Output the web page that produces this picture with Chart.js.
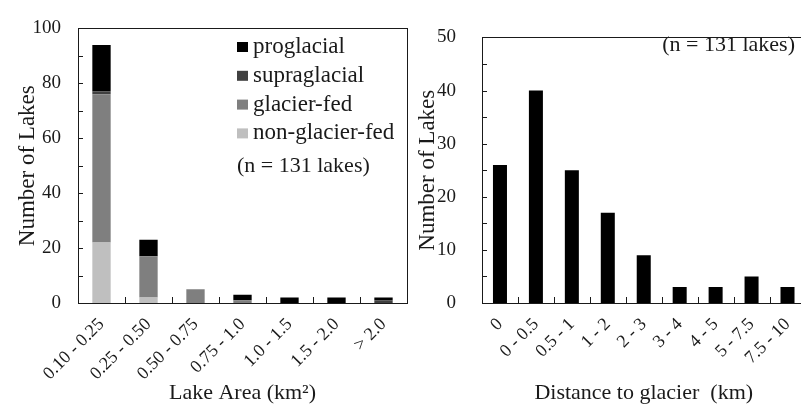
<!DOCTYPE html>
<html>
<head>
<meta charset="utf-8">
<script src="https://cdn.jsdelivr.net/npm/chart.js@4.4.1/dist/chart.umd.min.js"></script>
<style>
  html, body { margin: 0; padding: 0; background: #fff; overflow: hidden; width: 801px; height: 407px; }
  #left { position: absolute; left: 0; top: 0; }
  #right { position: absolute; left: 400px; top: 0; }
</style>
</head>
<body>
<canvas id="left" width="410" height="407"></canvas>
<canvas id="right" width="414" height="407"></canvas>
<script>
// lake area histogram (stacked by type)
const areaLabels = ['0.10 - 0.25', '0.25 - 0.50', '0.50 - 0.75', '0.75 - 1.0', '1.0 - 1.5', '1.5 - 2.0', '> 2.0'];
const nonGlacierFed = [22, 2, 0, 0, 0, 0, 0];
const glacierFed = [54, 15, 5, 1, 0, 0, 0];
const supraglacial = [1, 0, 0, 0, 0, 0, 1];
const proglacial = [17, 6, 0, 2, 2, 2, 1];

// distance to glacier histogram
const distLabels = ['0', '0 - 0.5', '0.5 - 1', '1 - 2', '2 - 3', '3 - 4', '4 - 5', '5 - 7.5', '7.5 - 10'];
const distCounts = [26, 40, 25, 17, 9, 3, 3, 5, 3];

const noteText = '(n = 131 lakes)';

const FONT = "'Liberation Serif', 'Times New Roman', serif";
const INK = '#1a1a1a';

// box frame, inward tick marks, legend and note
const decor = {
  id: 'decor',
  afterDatasetsDraw(chart, args, opts) {
    const { ctx, chartArea: a, scales: { x, y } } = chart;
    ctx.save();
    ctx.strokeStyle = INK;
    ctx.lineWidth = 1;
    ctx.strokeRect(Math.round(a.left) + 0.5, Math.round(a.top) + 0.5,
      Math.round(a.right - a.left), Math.round(a.bottom - a.top));

    ctx.beginPath();
    for (let v = y.min; v <= y.max; v += opts.minor) {
      const py = Math.round(y.getPixelForValue(v)) + 0.5;
      ctx.moveTo(a.left, py);
      ctx.lineTo(a.left + 5, py);
    }
    const n = chart.data.labels.length;
    for (let i = 1; i < n; i++) {
      const px = Math.round((x.getPixelForValue(i - 1) + x.getPixelForValue(i)) / 2) + 0.5;
      ctx.moveTo(px, a.bottom);
      ctx.lineTo(px, a.bottom - 6);
    }
    ctx.stroke();

    ctx.textBaseline = 'middle';
    ctx.fillStyle = INK;
    if (opts.legend) {
      ctx.font = '23px ' + FONT;
      const ds = chart.data.datasets.slice().reverse();
      ds.forEach((d, i) => {
        const cy = opts.legend.y + i * opts.legend.gap;
        ctx.fillStyle = d.backgroundColor;
        ctx.fillRect(opts.legend.x, cy - 5, 11, 10);
        ctx.fillStyle = INK;
        ctx.textAlign = 'left';
        ctx.fillText(d.label, opts.legend.x + 16, cy);
      });
    }
    ctx.font = '22px ' + FONT;
    ctx.textAlign = opts.note.align;
    ctx.fillText(noteText, opts.note.x, opts.note.y);
    ctx.restore();
  }
};

function yScale(max, step, width, pad) {
  return {
    min: 0,
    max: max,
    afterFit(s) { s.width = width; },
    grid: { display: false, drawTicks: false },
    border: { display: false },
    ticks: { stepSize: step, padding: pad, color: INK, font: { family: FONT, size: 19 } },
    title: {
      display: true, text: 'Number of Lakes', color: INK,
      font: { family: FONT, size: 23 }, padding: { top: 14, bottom: 0 }
    }
  };
}

function xScale(title) {
  return {
    stacked: true,
    afterFit(s) { s.height = 104; },
    grid: { display: false, drawTicks: false },
    border: { display: false },
    ticks: {
      autoSkip: false, minRotation: 45, maxRotation: 45, padding: 11,
      color: INK, font: { family: FONT, size: 18 }
    },
    title: {
      display: true, text: title, color: INK,
      font: { family: FONT, size: 22 }, padding: { top: 0, bottom: 1 }
    }
  };
}

const barStyle = { barPercentage: 0.39, categoryPercentage: 1, borderWidth: 0 };

new Chart(document.getElementById('left'), {
  type: 'bar',
  data: {
    labels: areaLabels,
    datasets: [
      { label: 'non-glacier-fed', data: nonGlacierFed, backgroundColor: '#bfbfbf', ...barStyle },
      { label: 'glacier-fed', data: glacierFed, backgroundColor: '#7f7f7f', ...barStyle },
      { label: 'supraglacial', data: supraglacial, backgroundColor: '#404040', ...barStyle },
      { label: 'proglacial', data: proglacial, backgroundColor: '#000000', ...barStyle }
    ]
  },
  options: {
    responsive: false,
    animation: false,
    layout: { padding: { top: 22, right: 3, bottom: 0, left: 0 } },
    plugins: {
      legend: { display: false },
      tooltip: { enabled: false },
      decor: {
        minor: 10,
        legend: { x: 237, y: 47, gap: 28.8 },
        note: { x: 237, y: 166, align: 'left' }
      }
    },
    scales: {
      x: xScale('Lake Area (km²)'),
      y: { ...yScale(100, 20, 78, 17), stacked: true }
    }
  },
  plugins: [decor]
});

new Chart(document.getElementById('right'), {
  type: 'bar',
  data: {
    labels: distLabels,
    datasets: [
      { label: 'lakes', data: distCounts, backgroundColor: '#000000', ...barStyle }
    ]
  },
  options: {
    responsive: false,
    animation: false,
    layout: { padding: { top: 22, right: 4, bottom: 0, left: 0 } },
    plugins: {
      legend: { display: false },
      tooltip: { enabled: false },
      decor: {
        minor: 5,
        legend: null,
        note: { x: 395, y: 45, align: 'right' }
      }
    },
    scales: {
      x: xScale('Distance to glacier  (km)'),
      y: yScale(50, 10, 82, 26)
    }
  },
  plugins: [decor]
});
</script>
</body>
</html>
